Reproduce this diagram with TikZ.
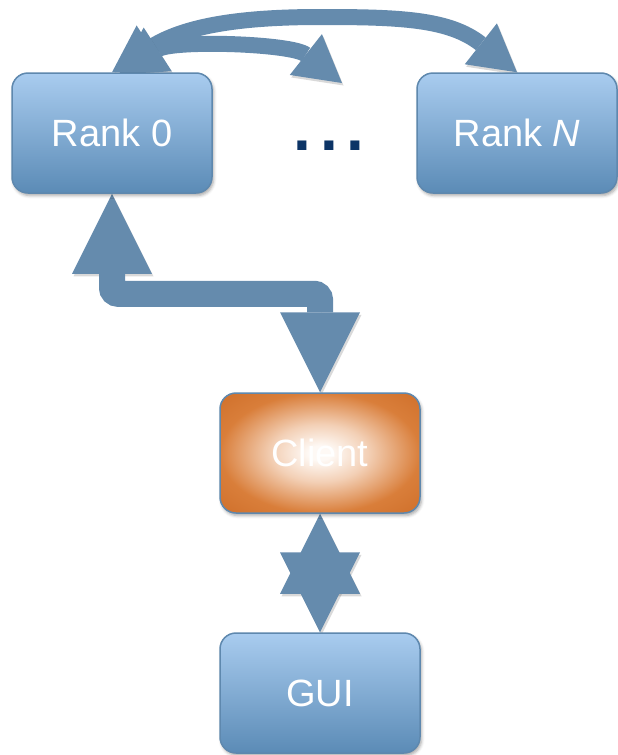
\documentclass[tikz,border=0pt]{standalone}
\usepackage{fontspec}
\setmainfont{Liberation Sans}
\usetikzlibrary{arrows.meta,calc,shadows.blur}

\definecolor{conncol}{RGB}{101,139,173}
\definecolor{boxtop}{RGB}{169,204,239}
\definecolor{boxbot}{RGB}{91,139,182}
\definecolor{boxedge}{RGB}{94,136,174}
\definecolor{clientout}{RGB}{217,126,58}
\definecolor{clientmid}{RGB}{243,208,182}
\definecolor{clientdeep}{RGB}{207,111,42}
\definecolor{glowc}{RGB}{254,249,245}
\definecolor{dotcol}{RGB}{12,52,102}

\pgfdeclarelayer{back}
\pgfsetlayers{back,main}

% orange glow for the client box: pale centre, orange rim
% (the central 50bp square is stretched over the box)
\pgfdeclareradialshading{clientglow}{\pgfpoint{0bp}{0bp}}{%
  color(0bp)=(glowc); color(3bp)=(glowc); color(12bp)=(clientmid);
  color(25bp)=(clientout); color(36bp)=(clientdeep); color(50bp)=(clientdeep)}

\tikzset{
  box/.style={rounded corners=16pt, draw=boxedge, line width=1.5pt,
    minimum width=200pt, minimum height=120pt, inner sep=0pt,
    text=white, font=\fontsize{38}{44}\selectfont,
    blur shadow={shadow xshift=1.5pt, shadow yshift=-2.5pt,
      shadow opacity=35, shadow blur radius=3pt}},
  bluebox/.style={box, top color=boxtop, bottom color=boxbot},
  clientbox/.style={box, shading=clientglow},
  conn/.style={draw=conncol,
    preaction={draw=black, opacity=0.15,
      transform canvas={shift={(1.5pt,-2.5pt)}}}},
  bigtip/.tip={Triangle[length=80pt,width=80pt,line width=0pt]},
  arctip/.tip={Triangle[length=46pt,width=52pt,line width=0pt]},
  dotsty/.style={text=dotcol, anchor=base, inner sep=0pt,
    font=\bfseries\fontsize{64}{68}\selectfont},
}

\begin{document}
\begin{tikzpicture}[x=1pt, y=-1pt]
  \useasboundingbox (0,0) rectangle (618,755);

  % the four boxes
  \node[bluebox] (rank0) at (112,133) {Rank 0};
  \node[bluebox] (rankN) at (517,133) {Rank \textit{N}};
  \node[clientbox] (client) at (320,453) {Client};
  \node[bluebox] (gui) at (320,693) {GUI};

  % the ellipsis between the ranks
  \node[dotsty] (dots) at (329,150) {.\hspace{9pt}.\hspace{9pt}.};
  \coordinate (dotsin) at (342,83);

  \begin{pgfonlayer}{back}
    % rank 0 <-> rank N
    \draw[conn, line width=16pt, arctip-arctip]
      (rank0.north) .. controls (184.2,25.8) and (240,17) .. (320,17)
      .. controls (400,17) and (449.1,18.9) .. (rankN.north);
    % rank 0 <-> the other ranks
    \draw[conn, line width=16pt, arctip-arctip]
      ($(rank0.north)+(7,2)$) .. controls (172.8,39.7) and (291.7,43.4) .. (dotsin);
    % rank 0 <-> client
    \draw[conn, line width=26pt, rounded corners=6pt, bigtip-bigtip]
      (rank0.south) -- ++(0,100) -| (client.north);
    % client <-> GUI
    \draw[conn, line width=1pt, bigtip-bigtip] (client.south) -- (gui.north);
  \end{pgfonlayer}
\end{tikzpicture}
\end{document}
